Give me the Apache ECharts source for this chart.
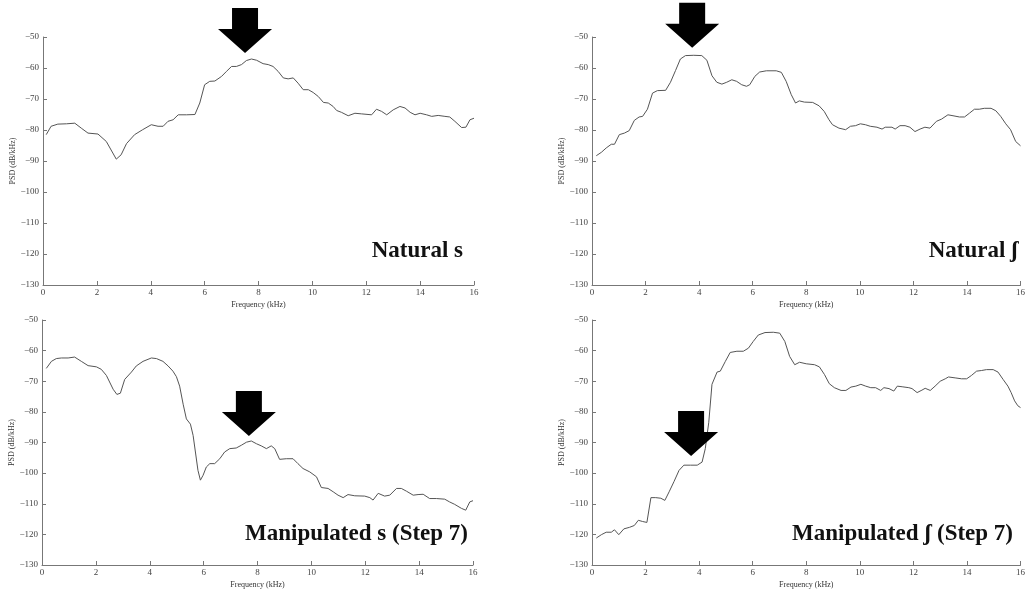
<html>
<head>
    <meta charset='utf-8' />
    <script src="https://cdn.jsdelivr.net/npm/echarts@6/dist/echarts.min.js"></script>
    <title>PSD</title>
    <style>
        body { margin: 0; background: #fff; overflow: hidden; }
        #chart { width: 1028px; height: 590px; }
    </style>
</head>
<body>
    <div id="chart"></div>
    <script type="text/javascript">
        // [frequency kHz, PSD dB/kHz]
        var naturalS = [[0.12,-81.5],[0.3,-78.8],[0.55,-78.1],[0.87,-78],[1.18,-77.8],[1.42,-79.4],[1.67,-81],[2.04,-81.3],[2.35,-83.7],[2.72,-89.4],[2.9,-88],[3.1,-84.4],[3.4,-81.5],[3.7,-79.9],[4.02,-78.3],[4.27,-78.8],[4.46,-78.8],[4.64,-77.2],[4.83,-76.7],[5.02,-75.1],[5.33,-75.1],[5.64,-75],[5.82,-71.3],[6.0,-65.4],[6.19,-64.3],[6.38,-64.2],[6.63,-62.7],[6.81,-61.1],[7.0,-59.5],[7.18,-59.5],[7.37,-58.9],[7.55,-57.6],[7.74,-57.1],[7.93,-57.5],[8.17,-58.6],[8.36,-58.9],[8.54,-59.5],[8.73,-61.1],[8.92,-63.2],[9.1,-63.5],[9.29,-63.2],[9.47,-64.9],[9.66,-67],[9.85,-67],[10.03,-67.9],[10.22,-69.2],[10.41,-71.1],[10.59,-71.3],[10.77,-72.4],[10.9,-73.7],[11.08,-74.3],[11.33,-75.4],[11.58,-74.6],[11.83,-74.8],[12.2,-75.1],[12.38,-73.3],[12.57,-74],[12.76,-75.1],[13.0,-73.5],[13.25,-72.4],[13.44,-72.9],[13.63,-74.3],[13.81,-75.1],[14.0,-74.6],[14.24,-75.1],[14.43,-75.6],[14.67,-75.3],[14.92,-75.6],[15.1,-75.8],[15.29,-77.2],[15.54,-79.2],[15.7,-79.1],[15.85,-76.7],[16.0,-76.2]];
        var naturalEsh = [[0.16,-88.3],[0.35,-87.2],[0.53,-85.8],[0.72,-84.6],[0.84,-84.6],[1.02,-81.5],[1.21,-81],[1.39,-80.2],[1.58,-76.9],[1.76,-75.8],[1.89,-75.6],[2.07,-73.3],[2.26,-68.1],[2.44,-67.3],[2.75,-67.2],[2.93,-64.6],[3.12,-60.8],[3.3,-57.1],[3.49,-56],[3.8,-55.9],[4.1,-56],[4.29,-57.5],[4.48,-62.5],[4.66,-64.6],[4.85,-65.2],[5.03,-64.6],[5.22,-63.8],[5.4,-64.3],[5.59,-65.4],[5.77,-65.9],[5.89,-65.4],[6.08,-62.7],[6.26,-61.3],[6.51,-60.9],[6.88,-60.9],[7.07,-61.4],[7.25,-64.3],[7.44,-68.6],[7.6,-71.3],[7.74,-70.6],[7.93,-71],[8.24,-71.1],[8.48,-72.2],[8.67,-74],[8.85,-76.7],[8.98,-78.3],[9.22,-79.4],[9.47,-79.9],[9.65,-78.8],[9.84,-78.6],[10.02,-78],[10.21,-78.3],[10.39,-78.8],[10.64,-79.1],[10.83,-79.7],[10.95,-79.1],[11.2,-79.1],[11.32,-79.7],[11.5,-78.6],[11.69,-78.6],[11.87,-79.1],[12.06,-80.5],[12.25,-79.7],[12.43,-79.1],[12.62,-79.4],[12.86,-77.2],[13.05,-76.5],[13.29,-75.1],[13.48,-75.4],[13.72,-75.8],[13.91,-75.8],[14.09,-74.6],[14.28,-73.3],[14.46,-73.3],[14.65,-73],[14.9,-73],[15.08,-73.8],[15.26,-75.6],[15.45,-78],[15.63,-79.9],[15.82,-83.7],[16.0,-85.1]];
        var manipS = [[0.16,-65.8],[0.35,-63.5],[0.53,-62.6],[0.72,-62.4],[0.97,-62.4],[1.21,-62.1],[1.46,-63.5],[1.71,-64.9],[2.02,-65.3],[2.2,-66.1],[2.39,-68.1],[2.64,-72.6],[2.78,-74.3],[2.91,-73.9],[3.07,-69.4],[3.32,-67],[3.5,-65],[3.75,-63.5],[4.06,-62.4],[4.25,-62.6],[4.49,-63.5],[4.68,-65],[4.86,-66.7],[4.99,-68.5],[5.11,-71.6],[5.24,-77.5],[5.36,-82.3],[5.51,-84],[5.61,-87.7],[5.79,-99.1],[5.88,-102.3],[5.98,-100.7],[6.1,-98],[6.23,-96.9],[6.41,-96.9],[6.6,-95.3],[6.78,-93.1],[6.97,-92],[7.21,-91.8],[7.4,-90.9],[7.59,-89.9],[7.77,-89.5],[7.96,-90.4],[8.14,-91.1],[8.33,-92],[8.51,-91.1],[8.64,-92],[8.82,-95.5],[9.07,-95.3],[9.32,-95.3],[9.5,-96.9],[9.69,-98.5],[9.94,-99.6],[10.19,-101.2],[10.37,-104.7],[10.62,-105],[10.81,-106.1],[10.99,-107.2],[11.18,-108],[11.36,-107],[11.61,-107.4],[11.98,-107.5],[12.17,-108],[12.29,-108.8],[12.48,-106.6],[12.72,-107.5],[12.91,-107.2],[13.16,-105],[13.34,-105],[13.53,-105.9],[13.78,-107.2],[13.96,-107],[14.15,-106.9],[14.39,-108.3],[14.64,-108.3],[14.95,-108.5],[15.13,-109.4],[15.32,-110.2],[15.57,-111.5],[15.73,-112.1],[15.88,-109.4],[16.0,-109]];
        var manipEsh = [[0.16,-121.2],[0.35,-120.1],[0.53,-119.3],[0.72,-119.3],[0.84,-118.5],[1.0,-120.1],[1.19,-118.2],[1.4,-117.7],[1.58,-117.1],[1.73,-115.4],[1.89,-115.8],[2.05,-116.1],[2.2,-108],[2.38,-108],[2.57,-108.2],[2.72,-108.9],[2.88,-106.1],[3.06,-102.8],[3.25,-99.1],[3.43,-97.4],[3.68,-97.4],[3.93,-97.4],[4.11,-96.4],[4.23,-92],[4.36,-83.4],[4.48,-71],[4.67,-67],[4.79,-66.7],[4.98,-63.5],[5.16,-60.6],[5.41,-60.2],[5.65,-60.2],[5.84,-59.2],[6.02,-57],[6.21,-54.9],[6.46,-54.1],[6.77,-54],[7.01,-54.3],[7.2,-57],[7.38,-61.9],[7.57,-64.6],[7.75,-63.8],[8.0,-64.3],[8.31,-64.6],[8.49,-65.3],[8.68,-67.8],[8.86,-70.8],[9.05,-72.1],[9.3,-73],[9.48,-73],[9.67,-71.9],[9.85,-71.6],[10.04,-71],[10.22,-71.6],[10.41,-72.1],[10.59,-72.1],[10.78,-73],[10.9,-72.1],[11.09,-72.4],[11.27,-73.2],[11.4,-71.6],[11.58,-71.8],[11.83,-72.1],[11.95,-72.4],[12.14,-73.7],[12.32,-72.9],[12.44,-72.3],[12.63,-73],[12.81,-71.6],[13.0,-70],[13.19,-69.2],[13.31,-68.6],[13.56,-68.9],[13.8,-69.2],[13.99,-69.2],[14.17,-68.1],[14.36,-66.7],[14.54,-66.5],[14.73,-66.2],[14.98,-66.2],[15.16,-67],[15.35,-69.4],[15.53,-71.6],[15.65,-73.7],[15.78,-76.4],[15.9,-78],[16.0,-78.6]];

        // arrow tips [kHz, dB/kHz]
        var arrowTips = [[7.5, -55.2], [3.74, -53.5], [7.68, -87.9], [3.7, -94.4]];
        var panelLabels = ['Natural s', 'Natural \u0283', 'Manipulated s (Step 7)', 'Manipulated \u0283 (Step 7)'];

        var panels = [naturalS, naturalEsh, manipS, manipEsh];
        var grids = [
            { left: 43, top: 37, width: 431, height: 248 },
            { left: 592, top: 37, width: 432, height: 248 },
            { left: 42, top: 320, width: 431, height: 247 },
            { left: 592, top: 320, width: 432, height: 247 }
        ];
        var labelPos = [[463, 251], [1018, 251], [468, 534], [1013, 534]];

        var arrowPath = 'path://M14,0 L40,0 L40,21 L54,21 L27,45 L0,21 L14,21 Z';
        var serif = '"Liberation Serif", "DejaVu Serif", serif';

        var xAxes = [], yAxes = [], series = [], graphics = [];
        for (var i = 0; i < 4; i++) {
            xAxes.push({
                gridIndex: i, type: 'value', min: 0, max: 16, interval: 2,
                name: 'Frequency (kHz)', nameLocation: 'middle', nameGap: 16,
                nameTextStyle: { fontFamily: serif, fontSize: 8, color: '#333' },
                axisLine: { lineStyle: { color: '#777', width: 1 } },
                axisTick: { inside: true, length: 4, lineStyle: { color: '#777' } },
                axisLabel: { fontFamily: serif, fontSize: 9, color: '#444', margin: 3 },
                splitLine: { show: false }
            });
            yAxes.push({
                gridIndex: i, type: 'value', min: -130, max: -50, interval: 10,
                name: 'PSD (dB/kHz)', nameLocation: 'middle', nameGap: 25,
                nameTextStyle: { fontFamily: serif, fontSize: 8, color: '#333' },
                axisLine: { show: true, lineStyle: { color: '#777', width: 1 } },
                axisTick: { show: true, inside: true, length: 4, lineStyle: { color: '#777' } },
                axisLabel: {
                    fontFamily: serif, fontSize: 9, color: '#444', margin: 4,
                    formatter: function (v) { return String(v).replace('-', '\u2212'); }
                },
                splitLine: { show: false }
            });
            series.push({
                type: 'line', xAxisIndex: i, yAxisIndex: i,
                data: panels[i], showSymbol: false, smooth: false,
                lineStyle: { color: '#555', width: 1 },
                silent: true,
                markPoint: {
                    symbol: arrowPath, symbolSize: [54, 45], symbolOffset: [0, '-50%'],
                    itemStyle: { color: '#000' },
                    label: { show: false },
                    data: [{ coord: arrowTips[i] }]
                }
            });
            graphics.push({
                type: 'text', x: labelPos[i][0], y: labelPos[i][1],
                style: {
                    text: panelLabels[i], fill: '#111',
                    font: 'bold 23px ' + serif,
                    textAlign: 'right', textVerticalAlign: 'middle'
                }
            });
        }

        var chart = echarts.init(document.getElementById('chart'));
        chart.setOption({
            animation: false,
            backgroundColor: '#fff',
            grid: grids,
            xAxis: xAxes,
            yAxis: yAxes,
            series: series,
            graphic: graphics
        });
    </script>
</body>
</html>
